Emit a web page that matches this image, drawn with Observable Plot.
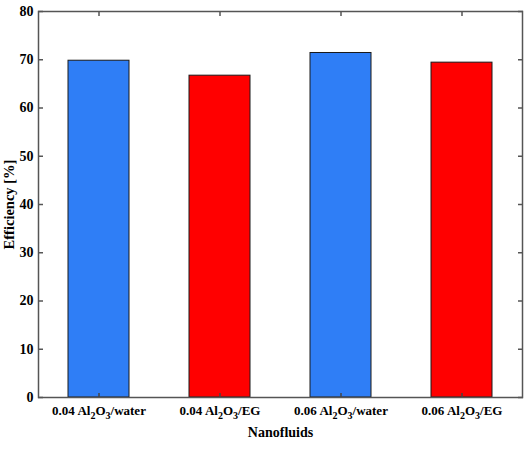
<!DOCTYPE html>
<html>
<head>
<meta charset="utf-8">
<script src="https://cdn.jsdelivr.net/npm/d3@7"></script>
<script src="https://cdn.jsdelivr.net/npm/@observablehq/plot@0.6"></script>
<style>
  html, body { margin: 0; padding: 0; background: #fff; }
</style>
</head>
<body>
<div id="chart"></div>
<script>
const categories = ["0.04 Al₂O₃/water", "0.04 Al₂O₃/EG", "0.06 Al₂O₃/water", "0.06 Al₂O₃/EG"];
const efficiency = [69.8, 66.7, 71.4, 69.4];
const barColors = ["#2f7ef6", "#ff0000", "#2f7ef6", "#ff0000"];
const yTicks = [0, 10, 20, 30, 40, 50, 60, 70, 80];

const data = categories.map((c, i) => ({name: c, value: efficiency[i], color: barColors[i]}));
const FONT = "Liberation Serif";

const chart = Plot.plot({
  width: 527,
  height: 450,
  marginLeft: 38,
  marginRight: 5,
  marginTop: 11,
  marginBottom: 53,
  style: {fontFamily: FONT, fontWeight: "bold", fontSize: "14px", color: "#000", background: "#fff"},
  x: {domain: categories, paddingInner: 0.5, paddingOuter: 0.25, align: 0.5},
  y: {domain: [0, 80]},
  marks: [
    Plot.barY(data, {x: "name", y: "value", fill: "color", stroke: "#1a1a1a", strokeWidth: 1}),
    Plot.frame({stroke: "#555", strokeWidth: 1.5}),
    Plot.axisY({ticks: yTicks, tickSize: -5, tickPadding: 10, stroke: "#555", strokeWidth: 1.5, fontFamily: FONT, fontSize: 14, fontWeight: "bold", label: null}),
    Plot.axisY({anchor: "right", ticks: yTicks, tickSize: -5, tickFormat: () => "", stroke: "#555", strokeWidth: 1.5, label: null}),
    Plot.axisX({anchor: "top", tickSize: -4, tickFormat: () => "", stroke: "#555", strokeWidth: 1.5, label: null}),
    Plot.axisX({anchor: "bottom", tickSize: -4, tickPadding: 12, stroke: "#444", strokeWidth: 1.5, fontFamily: FONT, fontSize: 13, fontWeight: "bold", label: null}),
    Plot.text(["Efficiency [%]"], {frameAnchor: "left", textAnchor: "middle", dx: -29, rotate: -90, fontFamily: FONT, fontSize: 14.5, fontWeight: "bold"}),
    Plot.text(["Nanofluids"], {frameAnchor: "bottom", dy: 39, fontFamily: FONT, fontSize: 14, fontWeight: "bold"})
  ]
});

// Render subscript characters as real subscripts
const subMap = {"₂": "2", "₃": "3"};
chart.querySelectorAll("text").forEach(t => {
  const s = t.textContent;
  if (!/[₂₃]/.test(s)) return;
  while (t.firstChild) t.removeChild(t.firstChild);
  let shifted = false;
  for (const ch of s) {
    const ts = document.createElementNS("http://www.w3.org/2000/svg", "tspan");
    if (subMap[ch]) {
      ts.textContent = subMap[ch];
      ts.setAttribute("font-size", "10");
      if (!shifted) { ts.setAttribute("dy", "4"); shifted = true; }
    } else {
      ts.textContent = ch;
      if (shifted) { ts.setAttribute("dy", "-4"); shifted = false; }
    }
    t.appendChild(ts);
  }
});

document.getElementById("chart").appendChild(chart);
</script>
</body>
</html>
